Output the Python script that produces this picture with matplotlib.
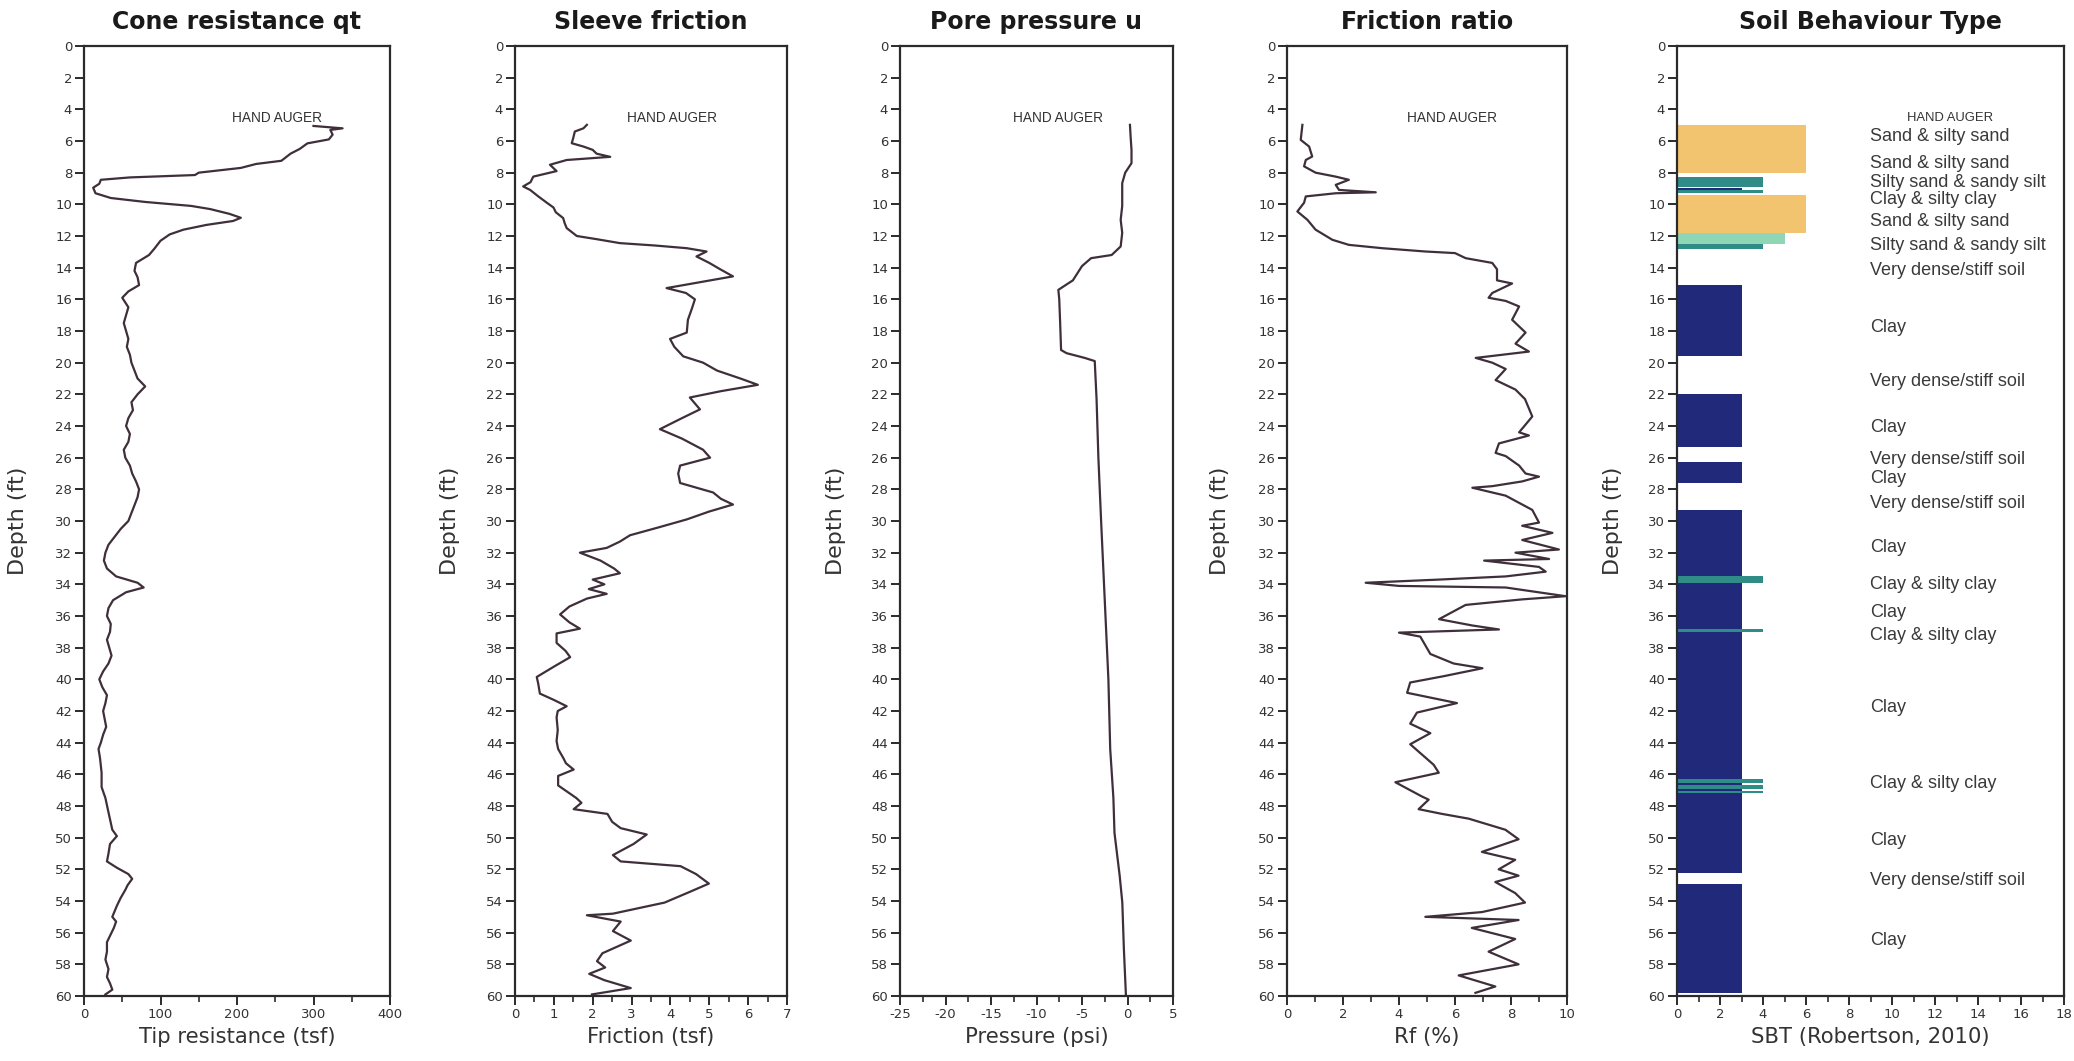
import matplotlib
matplotlib.use("Agg")
import matplotlib.pyplot as plt
import numpy as np

plt.rcParams["axes.unicode_minus"] = False

# ---------------- CPT sounding data ----------------
qt_depth = [5.05, 5.2, 5.3, 5.6, 5.9, 6.15, 6.5, 6.8, 7.25, 7.45, 7.7, 8.0, 8.15, 8.3, 8.45, 8.7,
            8.95, 9.3, 9.6, 9.85, 10.1, 10.3, 10.6, 10.85, 11.05, 11.3, 11.6, 11.9, 12.3, 12.8,
            13.2, 13.7, 14.2, 14.6, 15.1, 15.5, 15.9, 16.5, 17.0, 17.5, 18.0, 18.5, 19.0, 19.5,
            20.0, 20.5, 21.0, 21.5, 22.0, 22.5, 23.0, 23.5, 24.0, 24.5, 25.0, 25.5, 26.0, 26.5,
            27.0, 27.5, 28.0, 28.5, 29.0, 29.5, 30.0, 30.5, 31.0, 31.5, 32.0, 32.5, 33.0, 33.5,
            33.9, 34.2, 34.5, 35.0, 35.5, 36.0, 36.5, 37.0, 37.5, 38.0, 38.5, 39.0, 39.5, 40.0,
            40.5, 41.0, 41.5, 42.0, 42.5, 43.0, 43.5, 44.0, 44.4, 45.0, 45.9, 46.8, 47.5, 48.4,
            49.5, 49.9, 50.4, 51.0, 51.5, 51.9, 52.3, 52.6, 53.0, 53.3, 53.8, 54.3, 55.0, 55.3,
            55.7, 56.2, 56.6, 57.2, 57.7, 58.3, 58.8, 59.2, 59.6, 59.9]
qt_tsf = [300, 338, 322, 325, 320, 292, 282, 270, 258, 225, 205, 150, 145, 60, 22, 20,
          12, 15, 35, 80, 140, 165, 190, 205, 195, 160, 130, 112, 100, 92,
          85, 68, 66, 70, 72, 58, 50, 58, 55, 52, 55, 58, 56, 60,
          62, 66, 70, 80, 70, 62, 64, 58, 55, 60, 58, 52, 54, 60,
          63, 68, 72, 70, 66, 62, 58, 48, 40, 32, 28, 26, 30, 42,
          70, 78, 55, 38, 32, 30, 35, 34, 30, 33, 36, 32, 25, 20,
          24, 30, 28, 25, 27, 29, 25, 22, 19, 21, 23, 23, 28, 32,
          37, 43, 34, 32, 30, 43, 58, 63, 57, 54, 48, 43, 37, 42,
          39, 34, 30, 30, 28, 32, 30, 34, 37, 28]

fs_depth = [4.98, 5.2, 5.4, 5.8, 6.14, 6.35, 6.56, 6.8, 7.0, 7.2, 7.5, 7.9, 8.25, 8.6, 8.87,
            9.09, 9.5, 9.9, 10.2, 10.5, 10.87, 11.2, 11.5, 12.0, 12.2, 12.45, 12.6, 12.77,
            12.98, 13.29, 13.7, 14.1, 14.55, 14.9, 15.29, 15.6, 16.0, 16.6, 17.29, 18.1, 18.5,
            19.0, 19.6, 20.0, 20.5, 21.0, 21.4, 21.8, 22.2, 22.95, 23.5, 24.2, 24.8, 25.5,
            26.0, 26.5, 27.0, 27.6, 28.2, 28.6, 28.96, 29.4, 29.9, 30.4, 30.9, 31.3, 31.7,
            32.0, 32.5, 33.0, 33.3, 33.7, 34.0, 34.3, 34.6, 34.9, 35.4, 35.9, 36.4, 36.8,
            37.1, 37.7, 38.2, 38.6, 39.2, 39.85, 40.3, 40.9, 41.3, 41.7, 42.0, 42.4, 43.2,
            43.9, 44.4, 45.0, 45.3, 45.7, 46.1, 46.7, 47.5, 47.8, 48.2, 48.5, 49.0, 49.4,
            49.8, 50.4, 51.1, 51.5, 51.8, 52.3, 52.9, 53.4, 54.1, 54.8, 54.9, 55.3, 55.9,
            56.5, 57.3, 57.8, 58.2, 58.6, 59.0, 59.5, 59.9]
fs_tsf = [1.85, 1.76, 1.54, 1.5, 1.46, 1.76, 2.0, 2.1, 2.45, 1.33, 0.9, 1.07, 0.47, 0.4, 0.21,
          0.39, 0.6, 0.82, 0.99, 1.05, 1.24, 1.28, 1.33, 1.59, 2.1, 2.7, 3.6, 4.42,
          4.93, 4.67, 5.0, 5.28, 5.61, 4.8, 3.9, 4.4, 4.63, 4.55, 4.45, 4.42, 3.99,
          4.1, 4.33, 4.84, 5.2, 5.8, 6.25, 5.3, 4.5, 4.76, 4.3, 3.73, 4.3, 4.84,
          5.02, 4.25, 4.2, 4.25, 5.1, 5.3, 5.61, 5.0, 4.42, 3.7, 2.96, 2.7, 2.36,
          1.67, 2.2, 2.55, 2.7, 2.0, 2.3, 1.9, 2.36, 1.85, 1.4, 1.16, 1.4, 1.67,
          1.07, 1.07, 1.3, 1.42, 1.0, 0.56, 0.6, 0.64, 1.0, 1.33, 1.1, 1.07, 1.1,
          1.07, 1.11, 1.25, 1.31, 1.51, 1.11, 1.11, 1.58, 1.71, 1.51, 2.38, 2.5, 2.72,
          3.39, 3.05, 2.52, 2.72, 4.26, 4.66, 4.99, 4.52, 3.85, 2.52, 1.85, 2.72, 2.52,
          2.98, 2.25, 2.11, 2.32, 1.91, 2.3, 2.98, 1.98]

u_depth = [4.98, 5.8, 6.56, 7.4, 8.0, 8.66, 10.1, 10.98, 11.8, 12.66, 13.2, 13.4, 13.9, 14.8,
           15.4, 16.0, 17.5, 19.2, 19.4, 19.7, 19.9, 22.3, 26.0, 30.0, 35.0, 40.0, 44.4,
           47.5, 49.7, 52.4, 54.1, 57.0, 60.0]
u_psi = [0.27, 0.35, 0.44, 0.44, -0.25, -0.58, -0.58, -0.75, -0.58, -0.75, -1.74, -4.0, -5.0,
         -6.0, -7.6, -7.5, -7.4, -7.3, -6.7, -4.7, -3.6, -3.4, -3.2, -2.9, -2.5, -2.1, -1.9,
         -1.55, -1.43, -0.86, -0.57, -0.4, -0.17]

rf_depth = [4.98, 5.93, 6.35, 6.98, 7.2, 7.6, 8.0, 8.25, 8.45, 8.77, 9.09, 9.24, 9.3, 9.5, 9.9,
            10.45, 10.98, 11.6, 12.24, 12.56, 12.77, 12.98, 13.08, 13.4, 13.7, 14.1, 14.8,
            15.0, 15.6, 15.9, 16.1, 16.45, 17.29, 18.1, 18.8, 19.3, 19.5, 19.7, 20.0, 20.4,
            21.1, 21.7, 22.3, 23.4, 24.4, 24.6, 25.1, 25.7, 25.9, 26.5, 27.0, 27.2, 27.5,
            27.8, 27.9, 28.4, 29.3, 30.1, 30.3, 30.75, 31.2, 31.8, 32.0, 32.4, 32.5, 32.9,
            33.2, 33.5, 33.7, 33.9, 34.1, 34.2, 34.75, 34.95, 35.3, 36.2, 36.6, 36.85, 37.05,
            37.3, 38.4, 39.0, 39.3, 39.8, 40.2, 40.85, 41.5, 42.1, 42.8, 43.4, 44.1, 45.4,
            45.9, 46.5, 47.4, 47.6, 48.2, 48.5, 48.8, 49.5, 50.1, 50.9, 51.4, 52.0, 52.4,
            52.8, 53.5, 54.1, 54.7, 55.0, 55.2, 55.7, 56.4, 57.2, 58.0, 58.7, 59.4, 59.8]
rf_pct = [0.55, 0.49, 0.79, 0.9, 0.67, 0.61, 1.02, 1.74, 2.21, 1.74, 1.86, 3.17, 1.74, 0.67, 0.61,
          0.37, 0.73, 1.02, 1.62, 2.21, 3.4, 4.95, 6.0, 6.38, 7.33, 7.5, 7.5,
          8.04, 7.33, 7.2, 7.81, 8.29, 8.04, 8.52, 8.16, 8.64, 7.69, 6.74, 7.33, 7.81,
          7.45, 8.16, 8.5, 8.76, 8.29, 8.64, 7.57, 7.45, 7.81, 8.29, 8.52, 9.0, 8.4,
          7.33, 6.62, 7.81, 8.76, 9.0, 8.4, 9.48, 8.4, 9.71, 8.16, 9.36, 7.04, 9.0,
          9.24, 7.81, 5.43, 2.81, 4.0, 7.81, 9.95, 8.4, 6.38, 5.43, 6.62, 7.57, 4.0,
          4.76, 5.12, 5.95, 6.98, 5.6, 4.4, 4.29, 6.07, 4.64, 4.4, 5.12, 4.4, 5.24,
          5.42, 3.87, 4.82, 5.06, 4.7, 5.54, 6.49, 7.8, 8.27, 6.96, 8.15, 7.56, 8.27,
          7.44, 8.15, 8.5, 6.96, 4.94, 8.27, 6.6, 8.15, 7.2, 8.27, 6.13, 7.44, 6.73]

# Soil behaviour type layers (Robertson, 2010): top, bottom, zone number
sbt_top = [5.0, 8.3, 8.95, 9.1, 9.4, 11.8, 12.5, 15.1, 22.0, 26.3, 29.3, 33.5, 33.9, 36.85,
           37.0, 46.3, 46.55, 46.7, 46.9, 47.05, 47.2, 52.9]
sbt_bot = [8.0, 8.9, 9.1, 9.3, 11.8, 12.5, 12.8, 19.6, 25.3, 27.6, 33.5, 33.9, 36.85, 37.0,
           46.3, 46.55, 46.7, 46.9, 47.05, 47.2, 52.2, 59.8]
sbt_zone = [6, 4, 3, 4, 6, 5, 4, 3, 3, 3, 3, 4, 3, 4, 3, 4, 3, 4, 3, 4, 3, 3]

sbt_label_text = ["Sand & silty sand", "Sand & silty sand", "Silty sand & sandy silt",
                  "Clay & silty clay", "Sand & silty sand", "Silty sand & sandy silt",
                  "Very dense/stiff soil", "Clay", "Very dense/stiff soil", "Clay",
                  "Very dense/stiff soil", "Clay", "Very dense/stiff soil", "Clay",
                  "Clay & silty clay", "Clay", "Clay & silty clay", "Clay",
                  "Clay & silty clay", "Clay", "Very dense/stiff soil", "Clay"]
sbt_label_depth = [5.7, 7.4, 8.6, 9.7, 11.1, 12.6, 14.2, 17.8, 21.2, 24.1, 26.1, 27.3, 28.9,
                   31.7, 34.0, 35.8, 37.2, 41.8, 46.6, 50.2, 52.7, 56.5]

zone_colors = {3: "#20297a", 4: "#2f8c86", 5: "#8fd6b6", 6: "#f2c46f"}

# ---------------- figure layout ----------------
W, H = 2074, 1061
fig = plt.figure(figsize=(W / 100, H / 100), dpi=100)
fig.patch.set_facecolor("white")

top_px, bot_px = 46, 996
panels_px = [(84, 306), (515, 272), (900, 273), (1287, 280), (1677, 387)]
ylabel_px = [18, 450, 836, 1220, 1613]

trace_color = "#3f2f3b"
spine_color = "#2b2b2b"
label_font = ["Liberation Sans", "DejaVu Sans"]


def make_axes(i):
    left, width = panels_px[i]
    ax = fig.add_axes([left / W, (H - bot_px) / H, width / W, (bot_px - top_px) / H])
    ax.set_ylim(60, 0)
    ax.set_yticks(np.arange(0, 61, 2))
    for s in ax.spines.values():
        s.set_color(spine_color)
        s.set_linewidth(1.6)
    ax.tick_params(axis="both", which="major", direction="out", length=6.5, width=1.4,
                   color=spine_color, labelsize=9.5, labelcolor="#333333", pad=2)
    ax.tick_params(axis="x", which="minor", direction="out", length=4, width=1.2,
                   color=spine_color)
    ax.tick_params(axis="y", which="minor", left=False)
    ax.set_ylabel("Depth (ft)", fontsize=16, color="#333333")
    ax.yaxis.label.set_va("center")
    ax.yaxis.set_label_coords((ylabel_px[i] - left) / width, 0.5)
    return ax


def decorate(ax, title, xlabel):
    ax.text(0.5, 1 + (top_px - 22) / (bot_px - top_px), title, transform=ax.transAxes,
            ha="center", va="center", fontsize=17, fontweight="bold", color="#1a1a1a")
    ax.text(0.5, -(1037 - bot_px) / (bot_px - top_px), xlabel, transform=ax.transAxes,
            ha="center", va="center", fontsize=15.2, color="#333333")


def hand_auger(ax, x, size=9.8):
    ax.text(x, 4.55, "HAND AUGER", ha="center", va="center", fontsize=size,
            family=label_font, color="#333333")


# Cone resistance
ax1 = make_axes(0)
ax1.plot(qt_tsf, qt_depth, color=trace_color, lw=1.6)
ax1.set_xlim(0, 400)
ax1.set_xticks(np.arange(0, 401, 100))
ax1.set_xticks(np.arange(50, 400, 100), minor=True)
hand_auger(ax1, 252)
decorate(ax1, "Cone resistance qt", "Tip resistance (tsf)")

# Sleeve friction
ax2 = make_axes(1)
ax2.plot(fs_tsf, fs_depth, color=trace_color, lw=1.6)
ax2.set_xlim(0, 7)
ax2.set_xticks(np.arange(0, 8, 1))
ax2.set_xticks(np.arange(0.5, 7, 1), minor=True)
hand_auger(ax2, 4.05)
decorate(ax2, "Sleeve friction", "Friction (tsf)")

# Pore pressure
ax3 = make_axes(2)
ax3.plot(u_psi, u_depth, color=trace_color, lw=1.6)
ax3.set_xlim(-25, 5)
ax3.set_xticks(np.arange(-25, 6, 5))
ax3.set_xticks(np.arange(-22.5, 5, 5), minor=True)
hand_auger(ax3, -7.6)
decorate(ax3, "Pore pressure u", "Pressure (psi)")

# Friction ratio
ax4 = make_axes(3)
ax4.plot(rf_pct, rf_depth, color=trace_color, lw=1.6)
ax4.set_xlim(0, 10)
ax4.set_xticks(np.arange(0, 11, 2))
ax4.set_xticks(np.arange(1, 10, 2), minor=True)
hand_auger(ax4, 5.9)
decorate(ax4, "Friction ratio", "Rf (%)")

# Soil behaviour type
ax5 = make_axes(4)
for t, b, z in zip(sbt_top, sbt_bot, sbt_zone):
    ax5.barh((t + b) / 2, z, height=b - t, left=0, color=zone_colors[z], edgecolor="none")
ax5.set_xlim(0, 18)
ax5.set_xticks(np.arange(0, 19, 2))
ax5.set_xticks(np.arange(1, 18, 2), minor=True)
for txt, d in zip(sbt_label_text, sbt_label_depth):
    ax5.text(9.0, d, txt, ha="left", va="center", fontsize=13, family=label_font,
             color="#3a3a3a")
ax5.text(12.7, 4.55, "HAND AUGER", ha="center", va="center", fontsize=9.4,
         family=label_font, color="#333333")
decorate(ax5, "Soil Behaviour Type", "SBT (Robertson, 2010)")

fig.savefig("out.png", dpi=100, facecolor="white")
